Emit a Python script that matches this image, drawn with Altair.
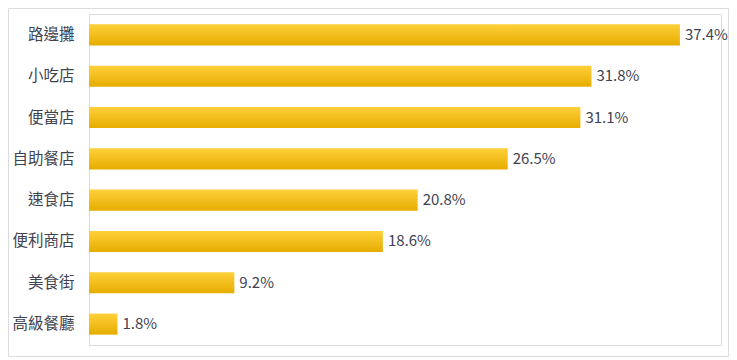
import altair as alt
import pandas as pd

categories = ["路邊攤", "小吃店", "便當店", "自助餐店", "速食店", "便利商店", "美食街", "高級餐廳"]
values = [37.4, 31.8, 31.1, 26.5, 20.8, 18.6, 9.2, 1.8]
labels = ["37.4%", "31.8%", "31.1%", "26.5%", "20.8%", "18.6%", "9.2%", "1.8%"]

df = pd.DataFrame({"cat": categories, "val": values, "label": labels})

FONT = "Noto Sans CJK TC"
TXT = "#3f4350"

y_enc = alt.Y("cat:N", sort=categories, title=None,
              scale=alt.Scale(paddingInner=0.49, paddingOuter=0.25),
              axis=alt.Axis(domain=True, domainColor="#d9d9d9", ticks=False,
                            labelFontSize=15.5, labelFont=FONT, labelColor=TXT,
                            labelPadding=15, grid=False))
x_enc = alt.X("val:Q", title=None, scale=alt.Scale(domain=[0, 40], nice=False),
              axis=None)

bars = alt.Chart(df).mark_bar(
    color=alt.Gradient(
        gradient="linear",
        stops=[alt.GradientStop(color="#FFD03A", offset=0),
               alt.GradientStop(color="#E6AD00", offset=1)],
        x1=0, x2=0, y1=0, y2=1,
    )
).encode(x=x_enc, y=y_enc)

text = alt.Chart(df).mark_text(
    align="left", baseline="middle", dx=5, fontSize=15, font=FONT, color=TXT
).encode(x=x_enc, y=y_enc, text="label:N")

border = alt.Chart(pd.DataFrame({"a": [0]})).mark_rect(
    fill=None, stroke="#dcdcdc", strokeWidth=1, clip=False
).encode(x=alt.value(-80.5), x2=alt.value(639.5), y=alt.value(-5.5), y2=alt.value(342.5))

chart = alt.layer(border, bars, text).properties(
    width=632, height=331,
    autosize=alt.AutoSizeParams(type="none"),
    padding={"left": 81, "top": 6, "right": 8, "bottom": 13},
).configure_view(stroke=None).configure(background="white")

chart.save("out.html", embed_options={"renderer": "svg", "actions": False})
